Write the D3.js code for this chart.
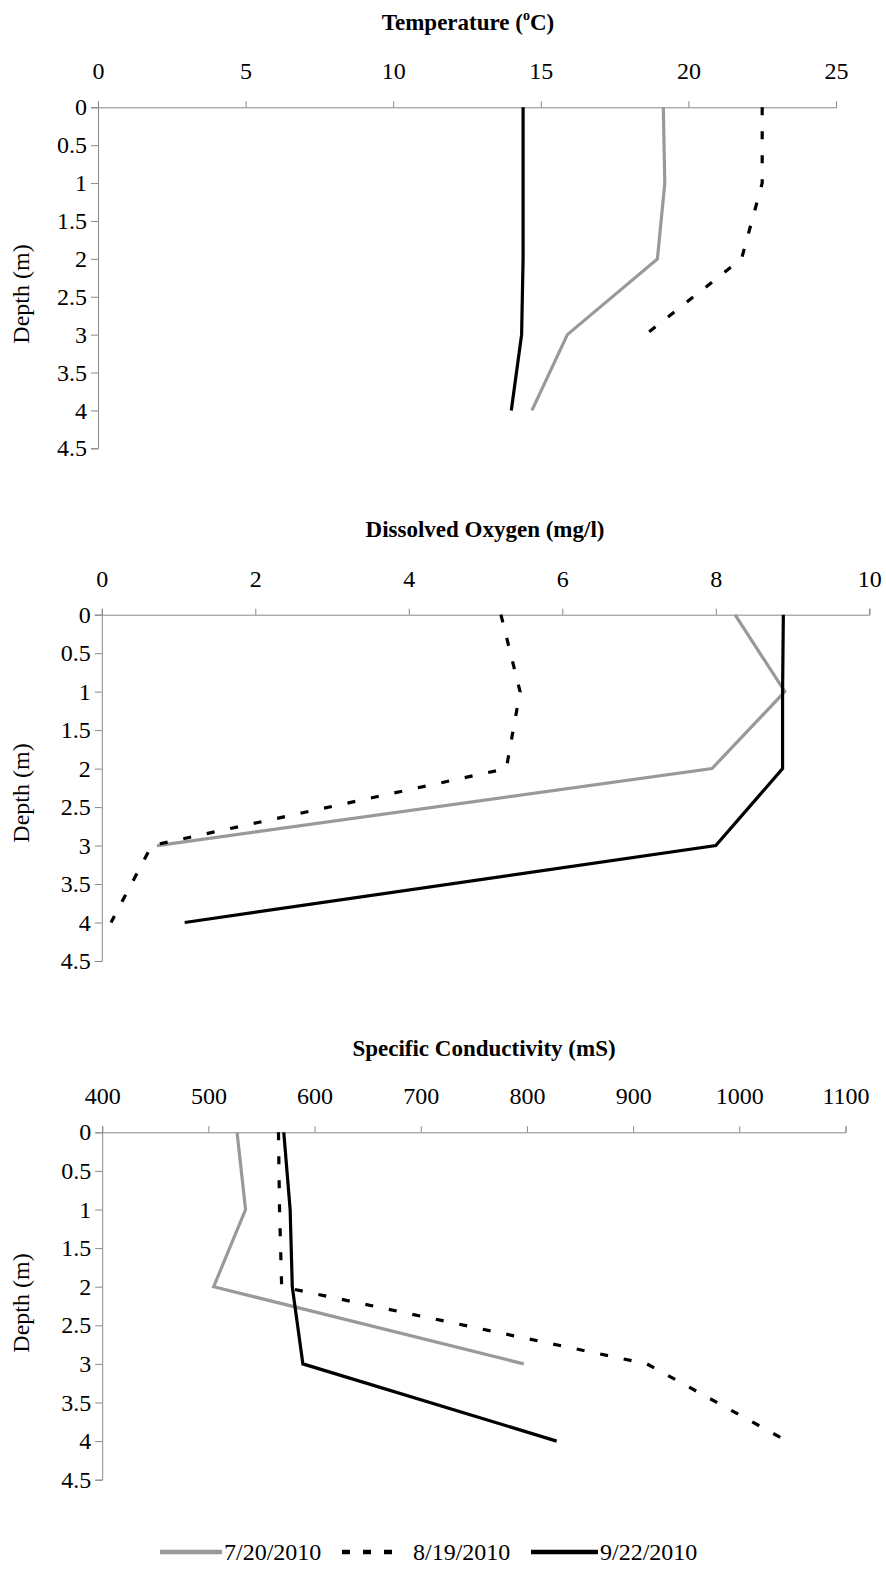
<!DOCTYPE html>
<html>
<head>
<meta charset="utf-8">
<script src="https://cdn.jsdelivr.net/npm/d3@7"></script>
<style>
  body { margin: 0; background: #fff; }
  svg text { font-family: "Liberation Serif", "Times New Roman", serif; fill: #000; }
  .axis path, .axis line { stroke: #888; stroke-width: 1; }
</style>
</head>
<body>
<div class="chart"></div>
<script>
var width = 886, height = 1572;
var serif = '"Liberation Serif", "Times New Roman", serif';

// depths sampled (m)
var depths = [0, 1, 2, 3, 4];
var dates = ["7/20/2010", "8/19/2010", "9/22/2010"];

// temperature (oC)
var temp0720 = [19.15, 19.2, 18.95, 15.9, 14.7];
var temp0819 = [22.5, 22.5, 21.8, 18.55];
var temp0922 = [14.4, 14.4, 14.4, 14.35, 14.0];
var tempTicks = [0, 5, 10, 15, 20, 25];

// dissolved oxygen (mg/l)
var do0720 = [8.25, 8.9, 7.95, 0.72];
var do0819 = [5.2, 5.45, 5.27, 0.65, 0.12];
var do0922 = [8.88, 8.87, 8.87, 8.0, 1.08];
var doTicks = [0, 2, 4, 6, 8, 10];

// specific conductivity (mS)
var cond0720 = [527, 535, 505, 797];
var cond0819 = [566, 567, 569, 913, 1045];
var cond0922 = [571, 577, 579, 589, 828];
var condTicks = [400, 500, 600, 700, 800, 900, 1000, 1100];

var depthTicks = [0, 0.5, 1, 1.5, 2, 2.5, 3, 3.5, 4, 4.5];

var styles = [
  {color: "#999999", dash: null},
  {color: "#000000", dash: "8,16"},
  {color: "#000000", dash: null}
];

var svg = d3.select(".chart")
    .append("svg")
    .attr("width", width)
    .attr("height", height);

var panels = [
  {title: "temp", ticks: tempTicks, series: [temp0720, temp0819, temp0922],
   left: 98, right: 836, top: 107.3, bottom: 448.3, tx: 468, ty: 30, ly: 294},
  {title: "Dissolved Oxygen (mg/l)", ticks: doTicks, series: [do0720, do0819, do0922],
   left: 101.8, right: 869.3, top: 614.7, bottom: 961, tx: 485, ty: 537, ly: 793},
  {title: "Specific Conductivity (mS)", ticks: condTicks, series: [cond0720, cond0819, cond0922],
   left: 102.2, right: 845.5, top: 1132.3, bottom: 1479.7, tx: 484, ty: 1056, ly: 1303}
];

function styleTicks(g) {
  g.attr("font-family", null).attr("font-size", null);
  g.selectAll("text")
      .style("font-family", serif)
      .style("font-size", "24px")
      .attr("fill", "#000");
}

panels.forEach(function(p) {
  var x = d3.scaleLinear()
      .domain([p.ticks[0], p.ticks[p.ticks.length - 1]])
      .range([p.left, p.right]);
  var y = d3.scaleLinear().domain([0, 4.5]).range([p.top, p.bottom]);

  svg.append("g")
      .attr("class", "axis")
      .attr("transform", "translate(0," + p.top + ")")
      .call(d3.axisTop(x).tickValues(p.ticks).tickSize(6).tickPadding(22).tickFormat(d3.format("")))
      .call(styleTicks);

  svg.append("g")
      .attr("class", "axis")
      .attr("transform", "translate(" + p.left + ",0)")
      .call(d3.axisLeft(y).tickValues(depthTicks).tickSize(7).tickPadding(4).tickFormat(d3.format("")))
      .call(styleTicks);

  // title
  var t = svg.append("text")
      .attr("x", p.tx)
      .attr("y", p.ty)
      .attr("text-anchor", "middle")
      .style("font-family", serif)
      .style("font-size", "23px")
      .style("font-weight", "bold");
  if (p.title == "temp") {
    t.append("tspan").text("Temperature (");
    t.append("tspan").text("o").attr("dy", -10).style("font-size", "14px");
    t.append("tspan").text("C)").attr("dy", 10);
  } else {
    t.text(p.title);
  }

  svg.append("text")
      .attr("transform", "translate(29," + p.ly + ") rotate(-90)")
      .attr("text-anchor", "middle")
      .style("font-family", serif)
      .style("font-size", "24px")
      .text("Depth (m)");

  var line = d3.line()
      .x(function(d) { return x(d[1]); })
      .y(function(d) { return y(d[0]); });

  p.series.forEach(function(vals, i) {
    var pts = vals.map(function(v, j) { return [depths[j], v]; });
    svg.append("path")
        .datum(pts)
        .attr("d", line)
        .attr("fill", "none")
        .attr("stroke", styles[i].color)
        .attr("stroke-width", 3.2)
        .attr("stroke-dasharray", styles[i].dash);
  });
});

// legend
var legendX = [160, 342, 531], legendText = [224, 413, 600], legendW = [62, 52, 67];
var legend = svg.append("g");
dates.forEach(function(d, i) {
  legend.append("line")
      .attr("x1", legendX[i]).attr("x2", legendX[i] + legendW[i])
      .attr("y1", 1552).attr("y2", 1552)
      .attr("stroke", styles[i].color)
      .attr("stroke-width", 4.5)
      .attr("stroke-dasharray", styles[i].dash ? "8,13" : null);
  legend.append("text")
      .attr("x", legendText[i])
      .attr("y", 1560)
      .style("font-family", serif)
      .style("font-size", "24px")
      .text(d);
});
</script>
</body>
</html>
